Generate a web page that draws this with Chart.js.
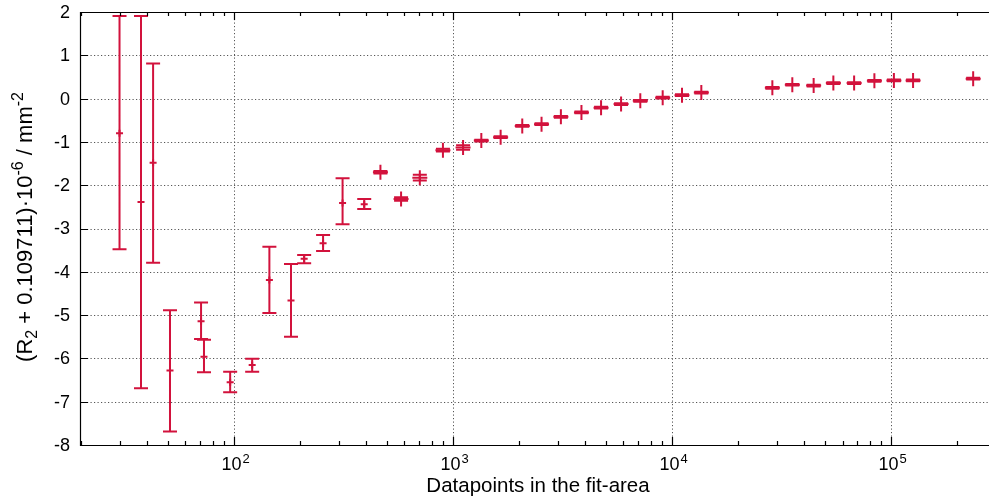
<!DOCTYPE html>
<html lang="en">
<head>
<meta charset="UTF-8">
<title>R2 vs datapoints in the fit-area</title>
<script src="https://cdn.jsdelivr.net/npm/chart.js"></script>
<style>
  html, body { margin: 0; padding: 0; background: #fff; }
  #wrap { width: 989px; height: 500px; }
</style>
</head>
<body>
<div id="wrap"><canvas id="fitChart"></canvas></div>
<script>
// number of datapoints in the fit-area (x, log scale)
const datapoints = [30, 37.6, 42.7, 51, 70.7, 72.9, 96, 121, 145, 182,
  209, 255, 313, 393, 466, 579, 705, 899, 1111, 1346,
  1649, 2070, 2535, 3107, 3857, 4740, 5850, 7160, 9060, 11100,
  13600, 28700, 35400, 44300, 54500, 67800, 83900, 103000, 126000, 237000];
// (R2 + 0.109711) * 10^-6 / mm^-2
const r2Values = [-0.80, -2.39, -1.48, -6.28, -5.14, -5.96, -6.55, -6.15, -4.19, -4.66,
  -3.70, -3.34, -2.41, -2.44, -1.70, -2.32, -1.83, -1.19, -1.13, -0.97,
  -0.89, -0.63, -0.59, -0.42, -0.32, -0.21, -0.125, -0.05, 0.02, 0.08,
  0.14, 0.25, 0.32, 0.30, 0.36, 0.36, 0.41, 0.42, 0.42, 0.46];
// lower / upper end of the error bars
const r2Low = [-3.48, -6.69, -3.79, -7.69, -5.55, -6.32, -6.78, -6.31, -4.95, -5.50,
  -3.80, -3.52, -2.90, -2.55, -1.73, -2.36, -1.89, -1.22, -1.18, -0.99,
  -0.91, -0.65, -0.61, -0.44, -0.34, -0.23, -0.145, -0.07, 0.00, 0.06,
  0.12, 0.23, 0.30, 0.28, 0.34, 0.34, 0.39, 0.40, 0.40, 0.44];
const r2High = [1.91, 1.91, 0.81, -4.89, -4.71, -5.57, -6.31, -6.01, -3.42, -3.82,
  -3.61, -3.15, -1.84, -2.32, -1.67, -2.28, -1.76, -1.16, -1.08, -0.95,
  -0.87, -0.61, -0.57, -0.40, -0.30, -0.19, -0.105, -0.03, 0.04, 0.10,
  0.16, 0.27, 0.34, 0.32, 0.38, 0.38, 0.43, 0.44, 0.44, 0.48];
const yTicks = [-8, -7, -6, -5, -4, -3, -2, -1, 0, 1, 2];
const xDecades = [100, 1000, 10000, 100000];

const RED = '#d2123c';
const FONT = '"Liberation Sans", Arial, sans-serif';

// gnuplot-like frame, dotted grid, inward ticks, error bars, rich text labels
const gnuplotLook = {
  id: 'gnuplotLook',
  beforeDatasetsDraw(chart) {
    const {ctx, chartArea: a, scales: {x, y}} = chart;
    ctx.save();
    ctx.strokeStyle = '#555';
    ctx.lineWidth = 1;
    ctx.setLineDash([1.2, 2.3]);
    ctx.beginPath();
    yTicks.forEach(v => {
      if (v === -8 || v === 2) return;
      const py = Math.round(y.getPixelForValue(v)) + 0.5;
      ctx.moveTo(a.left, py); ctx.lineTo(a.right, py);
    });
    xDecades.forEach(v => {
      const px = Math.round(x.getPixelForValue(v)) + 0.5;
      ctx.moveTo(px, a.top); ctx.lineTo(px, a.bottom);
    });
    ctx.stroke();
    ctx.restore();

    // error bars
    ctx.save();
    ctx.strokeStyle = RED;
    ctx.lineWidth = 2;
    ctx.beginPath();
    datapoints.forEach((d, i) => {
      const px = x.getPixelForValue(d);
      const lo = y.getPixelForValue(r2Low[i]);
      const hi = y.getPixelForValue(r2High[i]);
      ctx.moveTo(px, lo); ctx.lineTo(px, hi);
      ctx.moveTo(px - 7, lo); ctx.lineTo(px + 7, lo);
      ctx.moveTo(px - 7, hi); ctx.lineTo(px + 7, hi);
    });
    ctx.stroke();
    ctx.restore();
  },
  afterDraw(chart) {
    const {ctx, chartArea: a, scales: {x, y}} = chart;
    ctx.save();
    ctx.strokeStyle = '#000';
    ctx.lineWidth = 1.2;
    ctx.beginPath();
    // frame (right side lies beyond the picture)
    ctx.moveTo(a.right + 2, a.top + 0.5); ctx.lineTo(a.left + 0.5, a.top + 0.5);
    ctx.lineTo(a.left + 0.5, a.bottom + 0.5); ctx.lineTo(a.right + 2, a.bottom + 0.5);
    // y ticks
    yTicks.forEach(v => {
      const py = Math.round(y.getPixelForValue(v)) + 0.5;
      ctx.moveTo(a.left, py); ctx.lineTo(a.left + 8, py);
    });
    // x ticks, major and minor
    for (let e = 1; e <= 5; e++) {
      for (let m = 1; m <= 9; m++) {
        const v = m * Math.pow(10, e);
        if (v < x.min || v > x.max) continue;
        const px = Math.round(x.getPixelForValue(v)) + 0.5;
        const len = m === 1 ? 8 : 4;
        ctx.moveTo(px, a.bottom); ctx.lineTo(px, a.bottom - len);
        ctx.moveTo(px, a.top); ctx.lineTo(px, a.top + len);
      }
    }
    ctx.stroke();

    ctx.fillStyle = '#000';
    // y tick labels
    ctx.font = '18px ' + FONT;
    ctx.textAlign = 'right';
    ctx.textBaseline = 'middle';
    yTicks.forEach(v => {
      ctx.fillText(String(v), a.left - 10, y.getPixelForValue(v) + 1);
    });

    // x tick labels 10^n
    ctx.textBaseline = 'alphabetic';
    xDecades.forEach(v => {
      const exp = String(Math.round(Math.log10(v)));
      const px = x.getPixelForValue(v);
      ctx.font = '18px ' + FONT;
      const wBase = ctx.measureText('10').width;
      ctx.font = '13px ' + FONT;
      const wExp = ctx.measureText(exp).width;
      const start = px - (wBase + wExp) / 2 + 1;
      ctx.font = '18px ' + FONT;
      ctx.textAlign = 'left';
      ctx.fillText('10', start, 470);
      ctx.font = '13px ' + FONT;
      ctx.fillText(exp, start + wBase + 1, 463);
    });

    // x title
    ctx.font = '20.5px ' + FONT;
    ctx.textAlign = 'center';
    ctx.fillText('Datapoints in the fit-area', 538, 492);

    // y title with sub/superscripts
    const parts = [
      {t: '(R', f: 22, dy: 0},
      {t: '2', f: 16, dy: 5},
      {t: ' + 0.109711)\u00b710', f: 22, dy: 0},
      {t: '-6', f: 16, dy: -9},
      {t: ' / mm', f: 22, dy: 0},
      {t: '-2', f: 16, dy: -9}
    ];
    let total = 0;
    parts.forEach(p => { ctx.font = p.f + 'px ' + FONT; p.w = ctx.measureText(p.t).width; total += p.w; });
    ctx.translate(32, 227);
    ctx.rotate(-Math.PI / 2);
    ctx.textAlign = 'left';
    let cx = -total / 2;
    parts.forEach(p => {
      ctx.font = p.f + 'px ' + FONT;
      ctx.fillText(p.t, cx, p.dy);
      cx += p.w;
    });
    ctx.restore();
  }
};

const ctx = document.getElementById('fitChart').getContext('2d');
new Chart(ctx, {
  type: 'scatter',
  data: {
    datasets: [{
      data: datapoints.map((d, i) => ({x: d, y: r2Values[i]})),
      borderColor: RED,
      backgroundColor: RED,
      pointStyle: 'cross',
      borderWidth: 2,
      pointRadius: c => (r2High[c.dataIndex] - r2Low[c.dataIndex] > 0.15 ? 3.5 : 7.5),
      pointHoverRadius: 7.5
    }]
  },
  options: {
    responsive: true,
    maintainAspectRatio: false,
    animation: false,
    layout: {autoPadding: false, padding: {top: 12, right: 1, left: 0, bottom: 0}},
    plugins: {legend: {display: false}, tooltip: {enabled: false}},
    scales: {
      x: {
        type: 'logarithmic',
        min: 19.8,
        max: 277000,
        grid: {display: false},
        border: {display: false},
        ticks: {display: false},
        afterFit: s => { s.height = 55; }
      },
      y: {
        min: -8,
        max: 2,
        grid: {display: false, drawTicks: false},
        border: {display: false},
        ticks: {display: false, stepSize: 1},
        afterFit: s => { s.width = 80; }
      }
    }
  },
  plugins: [gnuplotLook]
});
</script>
</body>
</html>
